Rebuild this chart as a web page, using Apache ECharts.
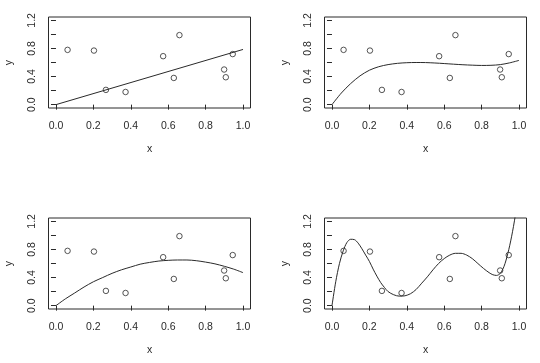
<!DOCTYPE html>
<html>
<head>
<meta charset="utf-8">
<script src="https://cdn.jsdelivr.net/npm/echarts@6/dist/echarts.min.js"></script>
<style>
html,body{margin:0;padding:0;background:#fff;}
#chart{width:540px;height:363px;}
</style>
</head>
<body>
<div id="chart"></div>
<script>
// Observed points (same in all four panels)
const pointX = [0.062, 0.203, 0.267, 0.372, 0.573, 0.630, 0.660, 0.899, 0.908, 0.945];
const pointY = [0.78, 0.77, 0.21, 0.18, 0.69, 0.38, 0.99, 0.50, 0.39, 0.72];

// Fitted curves
const line1X = [0, 1.0];
const line1Y = [0, 0.786];

const curve2X = [0, 0.05, 0.1, 0.15, 0.2, 0.25, 0.3, 0.35, 0.4, 0.45, 0.5, 0.55, 0.6, 0.65, 0.7, 0.75, 0.8, 0.85, 0.9, 0.95, 1.0];
const curve2Y = [0, 0.165, 0.30, 0.41, 0.49, 0.54, 0.57, 0.588, 0.597, 0.600, 0.599, 0.593, 0.585, 0.576, 0.568, 0.562, 0.558, 0.560, 0.570, 0.595, 0.63];

const curve3X = [0, 0.05, 0.1, 0.15, 0.2, 0.25, 0.3, 0.35, 0.4, 0.45, 0.5, 0.55, 0.6, 0.65, 0.7, 0.75, 0.8, 0.85, 0.9, 0.95, 1.0];
const curve3Y = [0, 0.096, 0.18, 0.265, 0.34, 0.40, 0.46, 0.51, 0.55, 0.59, 0.615, 0.635, 0.645, 0.65, 0.65, 0.64, 0.62, 0.595, 0.56, 0.52, 0.47];

const curve4X = [0, 0.02, 0.04, 0.06, 0.08, 0.10, 0.12, 0.14, 0.16, 0.18, 0.20, 0.22, 0.24, 0.26, 0.28, 0.30, 0.33, 0.36, 0.39, 0.42, 0.45, 0.48, 0.51, 0.54, 0.57, 0.60, 0.63, 0.66, 0.69, 0.72, 0.75, 0.78, 0.81, 0.84, 0.86, 0.88, 0.90, 0.92, 0.94, 0.96, 0.98, 1.00];
const curve4Y = [0, 0.34, 0.60, 0.78, 0.90, 0.945, 0.94, 0.89, 0.81, 0.72, 0.63, 0.52, 0.42, 0.33, 0.26, 0.20, 0.155, 0.135, 0.14, 0.17, 0.23, 0.32, 0.41, 0.51, 0.60, 0.67, 0.72, 0.745, 0.745, 0.72, 0.67, 0.60, 0.53, 0.47, 0.44, 0.43, 0.46, 0.56, 0.74, 0.98, 1.28, 1.66];

const xTicks = [0, 0.2, 0.4, 0.6, 0.8, 1.0];
const yTicks = [0, 0.2, 0.4, 0.6, 0.8, 1.0, 1.2];
const yLabelVals = [0, 0.4, 0.8, 1.2];

const xName = 'x';
const yName = 'y';

const zip = (a, b) => a.map((v, i) => [v, b[i]]);
const curves = [zip(line1X, line1Y), zip(curve2X, curve2Y), zip(curve3X, curve3Y), zip(curve4X, curve4Y)];

const ink = '#2a2a2a';
const font = 'Liberation Sans, Arial, Helvetica, sans-serif';

const grids = [
  {left: 48.5, top: 17, width: 202, height: 91},
  {left: 324.5, top: 17, width: 202, height: 91},
  {left: 48.5, top: 218, width: 202, height: 91},
  {left: 324.5, top: 218, width: 202, height: 91}
].map(g => Object.assign({show: true, borderColor: ink, borderWidth: 1, backgroundColor: 'transparent'}, g));

const xAxes = [], yAxes = [], series = [];
for (let i = 0; i < 4; i++) {
  xAxes.push({
    type: 'value', gridIndex: i, min: -0.04, max: 1.04,
    name: xName, nameLocation: 'middle', nameGap: 36,
    nameTextStyle: {fontSize: 10.5, fontFamily: font, color: ink},
    axisLine: {show: false},
    splitLine: {show: false},
    axisTick: {show: true, inside: false, length: 5, customValues: xTicks, lineStyle: {color: ink, width: 1}},
    axisLabel: {show: true, margin: 13, customValues: xTicks, fontSize: 10.5, fontFamily: font, color: ink,
      formatter: v => v.toFixed(1)}
  });
  yAxes.push({
    type: 'value', gridIndex: i, min: -0.048, max: 1.248,
    name: yName, nameLocation: 'middle', nameGap: 34,
    nameTextStyle: {fontSize: 10.5, fontFamily: font, color: ink},
    axisLine: {show: false},
    splitLine: {show: false},
    axisTick: {show: true, inside: false, length: 5, customValues: yTicks, lineStyle: {color: ink, width: 1}},
    axisLabel: {show: true, margin: 11, rotate: 90, customValues: yLabelVals, fontSize: 10.5, fontFamily: font, color: ink,
      formatter: v => v.toFixed(1)}
  });
  series.push({
    type: 'scatter', xAxisIndex: i, yAxisIndex: i,
    data: zip(pointX, pointY),
    symbol: 'circle', symbolSize: 5.5,
    itemStyle: {color: 'rgba(0,0,0,0)', borderColor: ink, borderWidth: 1},
    silent: true, animation: false
  });
  series.push({
    type: 'line', xAxisIndex: i, yAxisIndex: i,
    data: curves[i], showSymbol: false, smooth: i === 0 ? false : 0.3,
    clip: true,
    lineStyle: {color: ink, width: 1},
    silent: true, animation: false
  });
}

const chart = echarts.init(document.getElementById('chart'), null, {renderer: 'canvas'});
chart.setOption({
  animation: false,
  backgroundColor: '#fff',
  grid: grids,
  xAxis: xAxes,
  yAxis: yAxes,
  series: series
});
</script>
</body>
</html>
